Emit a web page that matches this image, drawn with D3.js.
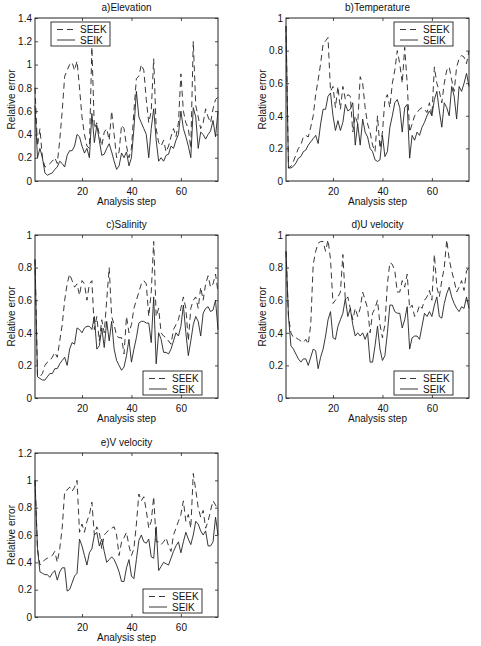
<!DOCTYPE html>
<html><head><meta charset="utf-8">
<script src="https://cdn.jsdelivr.net/npm/d3@7"></script>
<style>body{margin:0;background:#fff}svg{display:block}text{font-family:"Liberation Sans",Arial,sans-serif;fill:#111}</style>
</head><body>
<script>
const steps = d3.range(1, 76);
const seriesNames = ["SEEK", "SEIK"];
const titles = ["a)Elevation", "b)Temperature", "c)Salinity", "d)U velocity", "e)V velocity"];
const yMax = [1.4, 1, 1, 1, 1.2];
const yTicks = [[0,0.2,0.4,0.6,0.8,1,1.2,1.4],[0,0.2,0.4,0.6,0.8,1],[0,0.2,0.4,0.6,0.8,1],[0,0.2,0.4,0.6,0.8,1],[0,0.2,0.4,0.6,0.8,1,1.2]];
const xTicks = [20, 40, 60];

const seekA = [0.8,0.3,0.45,0.2,0.12,0.13,0.15,0.17,0.2,0.15,0.35,0.6,0.9,0.95,1.0,1.02,0.95,1.03,0.8,0.55,0.4,0.3,0.28,1.15,0.45,0.5,0.4,0.3,0.42,0.45,0.35,0.6,0.4,0.2,0.25,0.48,0.45,0.3,0.2,0.28,0.6,0.88,0.9,1.0,0.95,0.7,0.5,0.6,1.05,0.45,0.33,0.3,0.35,0.25,0.3,0.38,0.45,0.38,0.5,0.92,0.6,0.5,0.45,0.28,1.2,0.65,0.55,0.45,0.5,0.62,0.55,0.5,0.62,0.7,0.72];
const seikA = [0.65,0.2,0.28,0.2,0.07,0.05,0.06,0.07,0.1,0.12,0.17,0.15,0.12,0.22,0.26,0.26,0.3,0.4,0.38,0.3,0.24,0.28,0.2,0.58,0.33,0.48,0.35,0.22,0.23,0.28,0.32,0.25,0.17,0.1,0.13,0.24,0.2,0.25,0.13,0.2,0.45,0.77,0.55,0.5,0.45,0.4,0.2,0.45,0.62,0.35,0.17,0.2,0.17,0.22,0.23,0.3,0.28,0.35,0.4,0.6,0.45,0.38,0.3,0.2,0.63,0.55,0.28,0.42,0.4,0.36,0.4,0.43,0.52,0.38,0.6];
const seekB = [0.95,0.08,0.09,0.12,0.16,0.2,0.22,0.27,0.28,0.27,0.33,0.4,0.53,0.62,0.72,0.84,0.86,0.88,0.55,0.58,0.45,0.58,0.44,0.58,0.5,0.53,0.52,0.3,0.4,0.35,0.64,0.6,0.45,0.35,0.3,0.22,0.18,0.4,0.2,0.3,0.5,0.53,0.45,0.6,0.68,0.8,0.72,0.6,0.82,0.6,0.3,0.35,0.4,0.42,0.44,0.45,0.44,0.42,0.48,0.4,0.7,0.6,0.55,0.48,0.6,0.68,0.7,0.62,0.55,0.7,0.75,0.77,0.76,0.72,0.8];
const seikB = [0.95,0.08,0.08,0.09,0.11,0.14,0.15,0.18,0.19,0.22,0.24,0.26,0.28,0.23,0.35,0.44,0.44,0.52,0.54,0.4,0.31,0.37,0.31,0.36,0.47,0.43,0.44,0.48,0.22,0.35,0.22,0.38,0.3,0.27,0.2,0.18,0.13,0.12,0.13,0.28,0.15,0.18,0.33,0.4,0.48,0.5,0.45,0.3,0.45,0.47,0.14,0.28,0.25,0.3,0.28,0.33,0.36,0.4,0.43,0.4,0.5,0.55,0.43,0.33,0.48,0.45,0.4,0.58,0.52,0.38,0.58,0.55,0.6,0.66,0.58];
const seekC = [0.85,0.14,0.13,0.15,0.2,0.22,0.23,0.25,0.28,0.25,0.35,0.45,0.6,0.7,0.76,0.72,0.68,0.7,0.63,0.72,0.7,0.6,0.7,0.72,0.42,0.5,0.35,0.48,0.4,0.6,0.8,0.5,0.45,0.38,0.37,0.37,0.27,0.5,0.4,0.45,0.55,0.6,0.65,0.7,0.72,0.7,0.5,0.65,0.96,0.5,0.55,0.4,0.38,0.37,0.35,0.33,0.42,0.45,0.48,0.55,0.62,0.55,0.35,0.55,0.6,0.62,0.55,0.68,0.6,0.7,0.75,0.68,0.7,0.76,0.65];
const seikC = [0.85,0.13,0.12,0.11,0.11,0.13,0.15,0.15,0.18,0.18,0.21,0.23,0.25,0.2,0.3,0.34,0.33,0.43,0.42,0.4,0.43,0.44,0.44,0.42,0.5,0.3,0.32,0.43,0.31,0.47,0.35,0.47,0.3,0.23,0.2,0.17,0.19,0.26,0.36,0.22,0.3,0.37,0.46,0.47,0.47,0.46,0.46,0.34,0.62,0.21,0.4,0.36,0.28,0.28,0.27,0.3,0.35,0.4,0.38,0.44,0.57,0.4,0.26,0.35,0.45,0.5,0.47,0.38,0.52,0.55,0.56,0.53,0.54,0.6,0.42];
const seekD = [0.9,0.5,0.4,0.37,0.37,0.36,0.35,0.34,0.36,0.33,0.45,0.82,0.9,0.95,0.96,0.96,0.9,0.97,0.85,0.58,0.6,0.62,0.65,0.88,0.6,0.62,0.55,0.48,0.55,0.5,0.55,0.65,0.6,0.55,0.4,0.52,0.55,0.6,0.45,0.37,0.45,0.7,0.83,0.82,0.78,0.65,0.65,0.72,0.68,0.76,0.55,0.57,0.5,0.52,0.57,0.55,0.6,0.62,0.66,0.6,0.88,0.68,0.62,0.72,0.8,0.97,0.85,0.78,0.72,0.65,0.68,0.72,0.66,0.78,0.8];
const seikD = [0.9,0.5,0.32,0.3,0.27,0.24,0.22,0.24,0.24,0.2,0.25,0.3,0.29,0.18,0.25,0.3,0.38,0.48,0.53,0.37,0.36,0.44,0.48,0.52,0.61,0.5,0.55,0.45,0.38,0.4,0.38,0.4,0.36,0.4,0.22,0.22,0.32,0.44,0.3,0.23,0.26,0.4,0.57,0.57,0.53,0.52,0.52,0.43,0.48,0.56,0.3,0.37,0.38,0.38,0.36,0.44,0.52,0.5,0.53,0.5,0.57,0.62,0.5,0.49,0.58,0.64,0.68,0.62,0.58,0.55,0.53,0.56,0.55,0.62,0.55];
const seekE = [1.0,0.5,0.38,0.4,0.42,0.43,0.44,0.45,0.48,0.4,0.5,0.65,0.92,0.93,0.95,0.92,0.95,1.0,0.62,0.68,0.62,0.7,0.75,0.84,0.6,0.66,0.62,0.5,0.6,0.62,0.64,0.65,0.66,0.6,0.45,0.55,0.58,0.62,0.52,0.45,0.5,0.68,0.9,0.85,0.88,0.78,0.65,0.7,0.88,0.55,0.55,0.53,0.55,0.58,0.52,0.48,0.6,0.65,0.7,0.75,0.85,0.7,0.75,0.65,1.05,0.93,0.8,0.73,0.78,0.65,0.7,0.78,0.85,0.82,0.78];
const seikE = [1.0,0.5,0.33,0.32,0.31,0.31,0.29,0.32,0.34,0.27,0.33,0.36,0.36,0.19,0.2,0.25,0.3,0.32,0.57,0.52,0.45,0.38,0.47,0.5,0.6,0.62,0.52,0.57,0.48,0.4,0.42,0.44,0.42,0.38,0.33,0.26,0.26,0.36,0.42,0.3,0.28,0.42,0.56,0.6,0.55,0.54,0.57,0.44,0.43,0.66,0.34,0.37,0.4,0.39,0.38,0.43,0.48,0.52,0.55,0.47,0.55,0.62,0.57,0.53,0.6,0.7,0.68,0.63,0.6,0.63,0.52,0.52,0.55,0.73,0.6];

const seekAll = [seekA, seekB, seekC, seekD, seekE];
const seikAll = [seikA, seikB, seikC, seikD, seikE];

// layout (pixels)
const boxes = [
  {l:35, r:218, t:18, b:181, leg:{x:51, y:22}},
  {l:286, r:469, t:18, b:181, leg:{x:394, y:22}},
  {l:35, r:218, t:235, b:398, leg:{x:143, y:371}},
  {l:286, r:469, t:235, b:398, leg:{x:394, y:371}},
  {l:35, r:218, t:453, b:617, leg:{x:143, y:589}}
];
const ink = "#222";
const dash = "6,4";

const svg = d3.select("body").append("svg").attr("width", 481).attr("height", 646);

titles.forEach((title, k) => {
  const bx = boxes[k];
  const x = d3.scaleLinear().domain([1, 75]).range([bx.l, bx.r]);
  const y = d3.scaleLinear().domain([0, yMax[k]]).range([bx.b, bx.t]);
  const g = svg.append("g");

  // lines
  const line = d3.line().x((d, i) => x(steps[i])).y(d => y(d));
  g.append("path").datum(seekAll[k]).attr("d", line).attr("fill", "none")
    .attr("stroke", ink).attr("stroke-width", 0.9).attr("stroke-dasharray", dash);
  g.append("path").datum(seikAll[k]).attr("d", line).attr("fill", "none")
    .attr("stroke", ink).attr("stroke-width", 0.9);

  // axes (ticks inward)
  const fmt = d => d3.format("~g")(d);
  const axB = g.append("g").attr("transform", `translate(0,${bx.b})`)
    .call(d3.axisBottom(x).tickValues(xTicks).tickSizeInner(-3).tickSizeOuter(0).tickPadding(7).tickFormat(fmt));
  const axT = g.append("g").attr("transform", `translate(0,${bx.t})`)
    .call(d3.axisTop(x).tickValues(xTicks).tickSizeInner(-3).tickSizeOuter(0).tickFormat(""));
  const axL = g.append("g").attr("transform", `translate(${bx.l},0)`)
    .call(d3.axisLeft(y).tickValues(yTicks[k]).tickSizeInner(-3).tickSizeOuter(0).tickPadding(3).tickFormat(fmt));
  const axR = g.append("g").attr("transform", `translate(${bx.r},0)`)
    .call(d3.axisRight(y).tickValues(yTicks[k]).tickSizeInner(-3).tickSizeOuter(0).tickFormat(""));
  [axB, axT, axL, axR].forEach(a => {
    a.select(".domain").remove();
    a.selectAll("line").attr("stroke", ink).attr("stroke-width", 0.8);
    a.selectAll("text").attr("font-size", 10).attr("fill", "#111")
      .attr("font-family", "Liberation Sans, Arial, sans-serif");
  });
  // frame
  g.append("rect").attr("x", bx.l).attr("y", bx.t).attr("width", bx.r - bx.l).attr("height", bx.b - bx.t)
    .attr("fill", "none").attr("stroke", ink).attr("stroke-width", 1);

  // title and labels
  g.append("text").attr("x", (bx.l + bx.r) / 2).attr("y", bx.t - 7).attr("text-anchor", "middle")
    .attr("font-size", 10).text(title);
  g.append("text").attr("x", (bx.l + bx.r) / 2).attr("y", bx.b + 24).attr("text-anchor", "middle")
    .attr("font-size", 10).text("Analysis step");
  g.append("text").attr("transform", `translate(${bx.l - 20},${(bx.t + bx.b) / 2}) rotate(-90)`)
    .attr("text-anchor", "middle").attr("font-size", 10).text("Relative error");

  // legend
  const lg = g.append("g").attr("transform", `translate(${bx.leg.x},${bx.leg.y})`);
  lg.append("rect").attr("width", 59).attr("height", 24).attr("fill", "#fff").attr("stroke", ink).attr("stroke-width", 0.9);
  seriesNames.forEach((name, j) => {
    const yy = 7.5 + j * 10.5;
    lg.append("line").attr("x1", 6).attr("x2", 24).attr("y1", yy).attr("y2", yy)
      .attr("stroke", ink).attr("stroke-width", 0.9).attr("stroke-dasharray", j === 0 ? dash : null);
    lg.append("text").attr("x", 29).attr("y", yy + 3.5).attr("font-size", 10).text(name);
  });
});
</script>
</body></html>
